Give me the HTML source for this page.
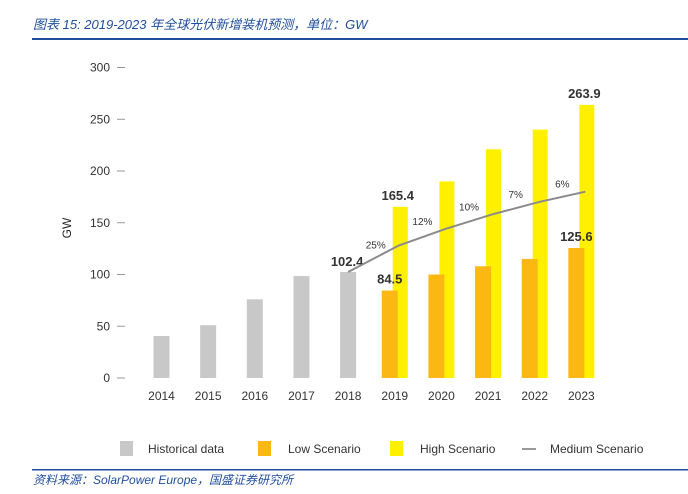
<!DOCTYPE html>
<html><head><meta charset="utf-8"><style>
body{margin:0;background:#fff;width:688px;height:489px;overflow:hidden;font-family:"Liberation Sans",sans-serif}
</style></head><body>
<svg width="688" height="489" xmlns="http://www.w3.org/2000/svg">
<text x="33" y="29" font-size="13" font-style="italic" fill="#1f4e9c" font-family="'Liberation Sans','Noto Sans CJK SC',sans-serif">图表 15:  2019-2023 年全球光伏新增装机预测，单位：GW</text>
<rect x="32" y="38" width="656" height="2" fill="#1f4e9c"/>
<g id="axis"></g>
<g id="bars"></g>
<g id="line"></g>
<text transform="translate(71,228) rotate(-90)" font-size="12" text-anchor="middle" fill="#222">GW</text>
<g font-size="12" fill="#333">
<rect x="120" y="441" width="13" height="15" fill="#c8c8c8"/>
<text x="148" y="453">Historical data</text>
<rect x="258" y="441" width="13" height="15" fill="#fbb812"/>
<text x="288" y="453">Low Scenario</text>
<rect x="390" y="441" width="13" height="15" fill="#fff000"/>
<text x="420" y="453">High Scenario</text>
<line x1="522" y1="449" x2="536" y2="449" stroke="#777" stroke-width="1.5"/>
<text x="550" y="453">Medium Scenario</text>
</g>
<rect x="32" y="469" width="656" height="1.5" fill="#1f4e9c"/>
<text x="33" y="484" font-size="12" font-style="italic" fill="#1f4e9c" font-family="'Liberation Sans','Noto Sans CJK SC',sans-serif">资料来源：SolarPower Europe，国盛证券研究所</text>
</svg>
<script>
const years=['2014','2015','2016','2017','2018','2019','2020','2021','2022','2023'];
const historical=[40.6,51,76,98.5,102.4,null,null,null,null,null];
const low=[null,null,null,null,null,84.5,100,108,115,125.6];
const high=[null,null,null,null,null,165.4,190,221,240,263.9];
const medium=[null,null,null,null,102.4,128,144,158,170,180];
const growth=[null,null,null,null,null,'25%','12%','10%','7%','6%'];
const yTicks=[0,50,100,150,200,250,300];
const histLabels={4:'102.4'};
const lowLabels={5:'84.5',9:'125.6'};
const highLabels={5:'165.4',9:'263.9'};
const NS='http://www.w3.org/2000/svg';
const y=v=>378-v*1.035;
const x=i=>161.5+i*46.65;
function mk(tag,attrs,parent,txt){const e=document.createElementNS(NS,tag);for(const k in attrs)e.setAttribute(k,attrs[k]);if(txt!==undefined)e.textContent=txt;parent.appendChild(e);return e;}
const ax=document.getElementById('axis'),bars=document.getElementById('bars'),ln=document.getElementById('line');
yTicks.forEach(t=>{
 const tl=mk('text',{x:110,y:y(t)+4,'font-size':12,'text-anchor':'end',fill:'#333'},ax,String(t));
 
 
 const tm=mk('line',{x1:117,x2:125,y1:y(t),y2:y(t),stroke:'#999'},ax);
 
 
});
years.forEach((yr,i)=>{
 const lbl=mk('text',{x:x(i),y:400,'font-size':12,'text-anchor':'middle',fill:'#333'},ax,yr);
 
 
 if(historical[i]!=null){
  const r=mk('rect',{x:x(i)-8,y:y(historical[i]),width:16,height:historical[i]*1.035,fill:'#c8c8c8'},bars);
  
  
  if(histLabels[i]){const t=mk('text',{x:x(i)-1,y:y(historical[i])-6,'font-size':13,'font-weight':'bold','text-anchor':'middle',fill:'#333'},bars,histLabels[i]);
  
  }
 }
 if(high[i]!=null){
  const r=mk('rect',{x:x(i)-2,y:y(high[i]),width:15,height:high[i]*1.035,fill:'#fff000'},bars);
  
  
  if(highLabels[i]){const t=mk('text',{x:x(i)+3,y:y(high[i])-7,'font-size':13,'font-weight':'bold','text-anchor':'middle',fill:'#333'},bars,highLabels[i]);
  
  }
 }
 if(low[i]!=null){
  const r=mk('rect',{x:x(i)-13,y:y(low[i]),width:16,height:low[i]*1.035,fill:'#fbb812'},bars);
  
  
  if(lowLabels[i]){const t=mk('text',{x:x(i)-5,y:y(low[i])-7,'font-size':13,'font-weight':'bold','text-anchor':'middle',fill:'#333'},bars,lowLabels[i]);
  
  }
 }
});
let pts=[];
medium.forEach((v,i)=>{if(v!=null)pts.push([i===4?x(i):x(i)+4,y(v)]);});
const pl=mk('polyline',{points:pts.map(p=>p.join(',')).join(' '),fill:'none',stroke:'#8a8a8a','stroke-width':2},ln);


growth.forEach((g,i)=>{if(g){
 const t=mk('text',{x:x(i)-19,y:y(medium[i])+(i===5?3:-4),'font-size':10,'text-anchor':'middle',fill:'#333'},ln,g);
 
 
}});
</script>
</body></html>
